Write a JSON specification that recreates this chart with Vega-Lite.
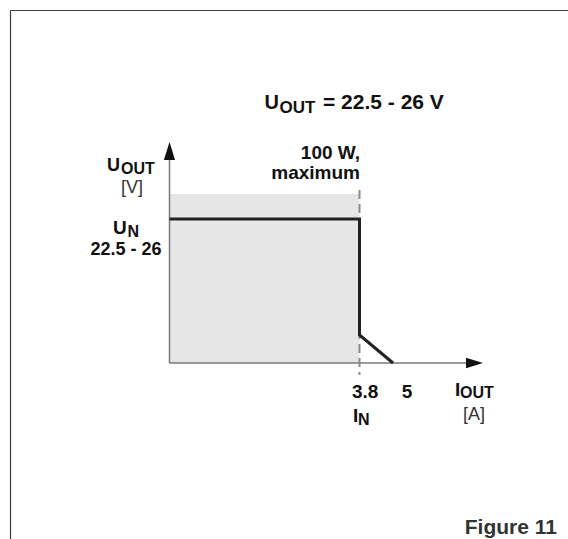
{
  "$schema": "https://vega.github.io/schema/vega-lite/v6.json",
  "width": 568,
  "height": 539,
  "autosize": "none",
  "padding": 0,
  "background": "white",
  "config": {"view": {"stroke": null}, "font": "Liberation Sans"},
  "data": {"values": [{}]},
  "datasets": {
    "region": [{"I_from": 0, "I_to": 3.8, "U_from": 0, "U_to": 28.17}],
    "curve": [
      {"I_A": 0, "U_V": 24, "step": 1},
      {"I_A": 3.8, "U_V": 24, "step": 2},
      {"I_A": 3.8, "U_V": 4.67, "step": 3},
      {"I_A": 5, "U_V": 0, "step": 4}
    ]
  },
  "layer": [
    {
      "data": {"name": "region"},
      "mark": {"type": "rect", "color": "#e6e6e6"},
      "encoding": {
        "x": {"field": "I_from", "type": "quantitative", "axis": null,
              "scale": {"domain": [-3.39, 0, 3.8, 5, 8.5], "range": [0, 169.5, 359.5, 393, 568], "nice": false, "zero": false}},
        "x2": {"field": "I_to"},
        "y": {"field": "U_from", "type": "quantitative", "axis": null,
              "scale": {"domain": [-29.333, 60.5], "nice": false, "zero": false}},
        "y2": {"field": "U_to"}
      }
    },
    {
      "mark": {"type": "rule", "color": "#404040", "strokeWidth": 1.2},
      "encoding": {
        "x": {"datum": -3.18, "type": "quantitative"},
        "x2": {"datum": 8.6},
        "y": {"datum": 58.75, "type": "quantitative"}
      }
    },
    {
      "mark": {"type": "rule", "color": "#404040", "strokeWidth": 1.2},
      "encoding": {
        "x": {"datum": -3.18, "type": "quantitative"},
        "y": {"datum": 58.75, "type": "quantitative"},
        "y2": {"datum": -30}
      }
    },
    {
      "mark": {"type": "rule", "color": "#7a7a7a", "strokeWidth": 1.5},
      "encoding": {
        "x": {"datum": 0, "type": "quantitative"},
        "y": {"datum": 0, "type": "quantitative"},
        "y2": {"datum": 34.3}
      }
    },
    {
      "mark": {"type": "rule", "color": "#7a7a7a", "strokeWidth": 1.5},
      "encoding": {
        "x": {"datum": 0, "type": "quantitative"},
        "x2": {"datum": 6.46},
        "y": {"datum": 0, "type": "quantitative"}
      }
    },
    {
      "mark": {"type": "point", "shape": "M0,-1L0.62,1L-0.62,1Z", "filled": true, "color": "#111111", "opacity": 1, "size": 324, "strokeWidth": 0},
      "encoding": {
        "x": {"datum": 0, "type": "quantitative"},
        "y": {"datum": 35.33, "type": "quantitative"}
      }
    },
    {
      "mark": {"type": "point", "shape": "M1,0L-1,0.62L-1,-0.62Z", "filled": true, "color": "#111111", "opacity": 1, "size": 289, "strokeWidth": 0},
      "encoding": {
        "x": {"datum": 6.63, "type": "quantitative"},
        "y": {"datum": 0, "type": "quantitative"}
      }
    },
    {
      "mark": {"type": "rule", "color": "#8a8a8a", "strokeWidth": 2, "strokeDash": [9, 5]},
      "encoding": {
        "x": {"datum": 3.8, "type": "quantitative"},
        "y": {"datum": 28.83, "type": "quantitative"},
        "y2": {"datum": -2}
      }
    },
    {
      "data": {"name": "curve"},
      "mark": {"type": "line", "color": "#222222", "strokeWidth": 3, "strokeJoin": "miter", "strokeCap": "butt"},
      "encoding": {
        "x": {"field": "I_A", "type": "quantitative"},
        "y": {"field": "U_V", "type": "quantitative"},
        "order": {"field": "step", "type": "ordinal"}
      }
    },
    {"mark": {"type": "text", "text": "U", "align": "left", "fontSize": 20, "fontWeight": "bold", "color": "#111"},
     "encoding": {"x": {"datum": 1.9, "type": "quantitative"}, "y": {"datum": 43.33, "type": "quantitative"}}},
    {"mark": {"type": "text", "text": "OUT", "align": "left", "fontSize": 17, "fontWeight": "bold", "color": "#111"},
     "encoding": {"x": {"datum": 2.2, "type": "quantitative"}, "y": {"datum": 42.5, "type": "quantitative"}}},
    {"mark": {"type": "text", "text": "= 22.5 - 26 V", "align": "left", "fontSize": 21, "fontWeight": "bold", "color": "#111"},
     "encoding": {"x": {"datum": 3.07, "type": "quantitative"}, "y": {"datum": 43.33, "type": "quantitative"}}},
    {"mark": {"type": "text", "text": "100 W,", "align": "right", "fontSize": 19, "fontWeight": "bold", "color": "#111"},
     "encoding": {"x": {"datum": 3.818, "type": "quantitative"}, "y": {"datum": 35, "type": "quantitative"}}},
    {"mark": {"type": "text", "text": "maximum", "align": "right", "fontSize": 19, "fontWeight": "bold", "color": "#111"},
     "encoding": {"x": {"datum": 3.818, "type": "quantitative"}, "y": {"datum": 31.67, "type": "quantitative"}}},
    {"mark": {"type": "text", "text": "U", "align": "left", "fontSize": 18, "fontWeight": "bold", "color": "#111"},
     "encoding": {"x": {"datum": -1.25, "type": "quantitative"}, "y": {"datum": 32.83, "type": "quantitative"}}},
    {"mark": {"type": "text", "text": "OUT", "align": "left", "fontSize": 16, "fontWeight": "bold", "color": "#111"},
     "encoding": {"x": {"datum": -0.97, "type": "quantitative"}, "y": {"datum": 32.33, "type": "quantitative"}}},
    {"mark": {"type": "text", "text": "[V]", "align": "center", "fontSize": 18, "fontWeight": "normal", "color": "#333"},
     "encoding": {"x": {"datum": -0.75, "type": "quantitative"}, "y": {"datum": 29.17, "type": "quantitative"}}},
    {"mark": {"type": "text", "text": "U", "align": "left", "fontSize": 19, "fontWeight": "bold", "color": "#111"},
     "encoding": {"x": {"datum": -1.13, "type": "quantitative"}, "y": {"datum": 22.5, "type": "quantitative"}}},
    {"mark": {"type": "text", "text": "N", "align": "left", "fontSize": 16, "fontWeight": "bold", "color": "#111"},
     "encoding": {"x": {"datum": -0.84, "type": "quantitative"}, "y": {"datum": 21.83, "type": "quantitative"}}},
    {"mark": {"type": "text", "text": "22.5 - 26", "align": "center", "fontSize": 18, "fontWeight": "bold", "color": "#111"},
     "encoding": {"x": {"datum": -0.87, "type": "quantitative"}, "y": {"datum": 18.83, "type": "quantitative"}}},
    {"mark": {"type": "text", "text": "3.8", "align": "center", "fontSize": 19, "fontWeight": "bold", "color": "#111"},
     "encoding": {"x": {"datum": 4.0, "type": "quantitative"}, "y": {"datum": -4.83, "type": "quantitative"}}},
    {"mark": {"type": "text", "text": "5", "align": "center", "fontSize": 19, "fontWeight": "bold", "color": "#111"},
     "encoding": {"x": {"datum": 5.28, "type": "quantitative"}, "y": {"datum": -4.83, "type": "quantitative"}}},
    {"mark": {"type": "text", "text": "I", "align": "left", "fontSize": 19, "fontWeight": "bold", "color": "#111"},
     "encoding": {"x": {"datum": 3.67, "type": "quantitative"}, "y": {"datum": -8.83, "type": "quantitative"}}},
    {"mark": {"type": "text", "text": "N", "align": "left", "fontSize": 16, "fontWeight": "bold", "color": "#111"},
     "encoding": {"x": {"datum": 3.77, "type": "quantitative"}, "y": {"datum": -9.5, "type": "quantitative"}}},
    {"mark": {"type": "text", "text": "I", "align": "left", "fontSize": 19, "fontWeight": "bold", "color": "#111"},
     "encoding": {"x": {"datum": 6.24, "type": "quantitative"}, "y": {"datum": -4.5, "type": "quantitative"}}},
    {"mark": {"type": "text", "text": "OUT", "align": "left", "fontSize": 16, "fontWeight": "bold", "color": "#111"},
     "encoding": {"x": {"datum": 6.34, "type": "quantitative"}, "y": {"datum": -5, "type": "quantitative"}}},
    {"mark": {"type": "text", "text": "[A]", "align": "center", "fontSize": 18, "fontWeight": "normal", "color": "#333"},
     "encoding": {"x": {"datum": 6.62, "type": "quantitative"}, "y": {"datum": -8.67, "type": "quantitative"}}},
    {"mark": {"type": "text", "text": "Figure 11", "align": "right", "fontSize": 21, "fontWeight": "bold", "color": "#333"},
     "encoding": {"x": {"datum": 8.28, "type": "quantitative"}, "y": {"datum": -27.5, "type": "quantitative"}}}
  ]
}
